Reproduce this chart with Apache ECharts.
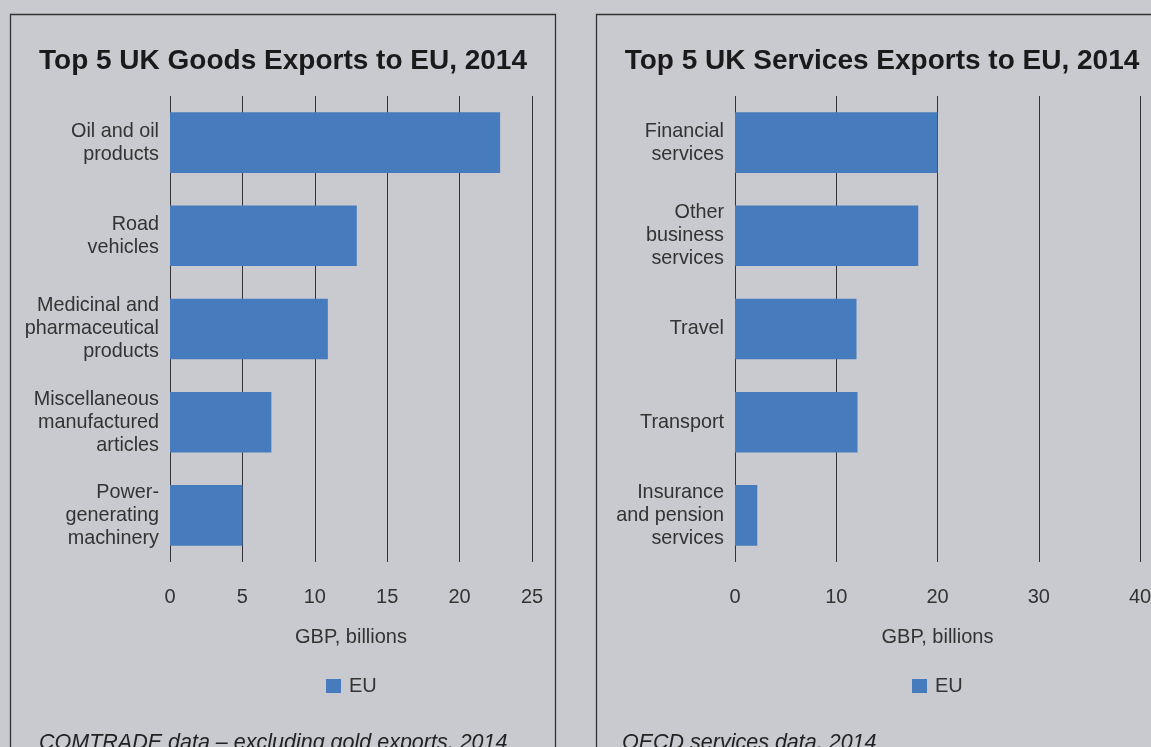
<!DOCTYPE html>
<html>
<head>
<meta charset="utf-8">
<script src="https://cdn.jsdelivr.net/npm/echarts@6/dist/echarts.min.js"></script>
<style>
html,body{margin:0;padding:0;background:#C9CACF;}
#c{width:1151px;height:747px;}
</style>
</head>
<body>
<div id="c"></div>
<script>
var goodsCategories = ["Oil and oil\nproducts", "Road\nvehicles", "Medicinal and\npharmaceutical\nproducts", "Miscellaneous\nmanufactured\narticles", "Power-\ngenerating\nmachinery"];
var goodsValues = [22.8, 12.9, 10.9, 7.0, 5.0];
var servicesCategories = ["Financial\nservices", "Other\nbusiness\nservices", "Travel", "Transport", "Insurance\nand pension\nservices"];
var servicesValues = [20.0, 18.1, 12.0, 12.1, 2.2];
var seriesName = "EU";
var titles = ["Top 5 UK Goods Exports to EU, 2014", "Top 5 UK Services Exports to EU, 2014"];
var footers = ["COMTRADE data \u2013 excluding gold exports, 2014", "OECD services data, 2014"];
var axisName = "GBP, billions";

var FONT = "'Liberation Sans', Arial, Helvetica, sans-serif";
var TXT = "#333333";
var BAR = "#467BBD";

var chart = echarts.init(document.getElementById('c'), null, {renderer: 'canvas'});

function xAx(gridIndex, max, interval) {
  return {
    type: 'value', gridIndex: gridIndex, min: 0, max: max, interval: interval,
    axisLine: {show: false}, axisTick: {show: false},
    splitLine: {show: true, showMinLine: true, showMaxLine: true, lineStyle: {color: '#333', width: 1}},
    axisLabel: {color: TXT, fontFamily: FONT, fontSize: 20, margin: 25},
    name: axisName, nameLocation: 'middle', nameGap: 65,
    nameTextStyle: {color: TXT, fontFamily: FONT, fontSize: 20}
  };
}
function yAx(gridIndex, cats) {
  return {
    type: 'category', gridIndex: gridIndex, data: cats, inverse: true,
    axisLine: {show: false}, axisTick: {show: false}, splitLine: {show: false},
    axisLabel: {color: TXT, fontFamily: FONT, fontSize: 19.8, lineHeight: 23, margin: 11, align: 'right'}
  };
}
function legendAt(left) {
  return {data: [seriesName], left: left, top: 671, icon: 'rect', itemWidth: 15, itemHeight: 14, itemGap: 10,
    textStyle: {color: TXT, fontFamily: FONT, fontSize: 20, padding: [0, 0, 0, 3]}, selectedMode: false};
}

var option = {
  backgroundColor: '#C9CACF',
  animation: false,
  title: [
    {text: titles[0], left: 278, top: 42, textAlign: 'center',
     textStyle: {color: '#1a1a1a', fontFamily: FONT, fontSize: 28, fontWeight: 'bold'}},
    {text: titles[1], left: 877, top: 42, textAlign: 'center',
     textStyle: {color: '#1a1a1a', fontFamily: FONT, fontSize: 28, fontWeight: 'bold'}},
    {text: footers[0], left: 34, top: 727,
     textStyle: {color: '#222', fontFamily: FONT, fontSize: 21.5, fontStyle: 'italic', fontWeight: 'normal'}},
    {text: footers[1], left: 617, top: 727,
     textStyle: {color: '#222', fontFamily: FONT, fontSize: 21.5, fontStyle: 'italic', fontWeight: 'normal'}}
  ],
  legend: [legendAt(321), legendAt(907)],
  grid: [
    {left: 170, width: 362, top: 96, height: 466, outerBoundsMode: 'none'},
    {left: 735, width: 405, top: 96, height: 466, outerBoundsMode: 'none'}
  ],
  xAxis: [xAx(0, 25, 5), xAx(1, 40, 10)],
  yAxis: [yAx(0, goodsCategories), yAx(1, servicesCategories)],
  series: [
    {name: seriesName, type: 'bar', xAxisIndex: 0, yAxisIndex: 0, data: goodsValues,
     barCategoryGap: '35%', itemStyle: {color: BAR}},
    {name: seriesName, type: 'bar', xAxisIndex: 1, yAxisIndex: 1, data: servicesValues,
     barCategoryGap: '35%', itemStyle: {color: BAR}}
  ],
  graphic: [
    {type: 'rect', shape: {x: 10.5, y: 14.5, width: 545, height: 760}, z: -1,
     style: {fill: 'transparent', stroke: '#333', lineWidth: 1.3}},
    {type: 'rect', shape: {x: 596.5, y: 14.5, width: 570, height: 760}, z: -1,
     style: {fill: 'transparent', stroke: '#333', lineWidth: 1.3}}
  ]
};
chart.setOption(option);
</script>
</body>
</html>
